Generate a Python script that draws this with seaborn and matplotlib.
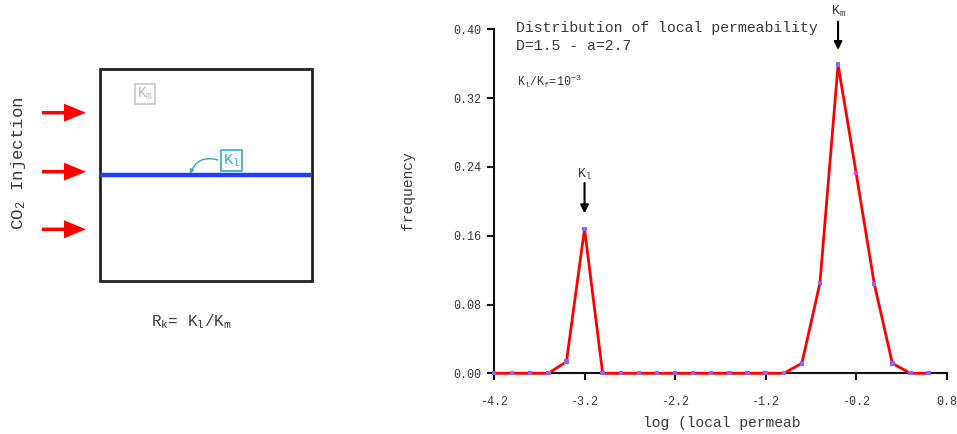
import numpy as np
import pandas as pd
import seaborn as sns
import matplotlib
matplotlib.use("Agg")
import matplotlib.pyplot as plt
from matplotlib.patches import Rectangle, FancyArrow

# ---- data ----
log_perm = [-4.2, -4.0, -3.8, -3.6, -3.4, -3.2, -3.0, -2.8, -2.6, -2.4, -2.2, -2.0, -1.8,
            -1.6, -1.4, -1.2, -1.0, -0.8, -0.6, -0.4, -0.2, 0.0, 0.2, 0.4, 0.6]
frequency = [0.0, 0.0, 0.0, 0.0, 0.0135, 0.168, 0.0, 0.0, 0.0, 0.0, 0.0, 0.0, 0.0,
             0.0, 0.0, 0.0, 0.0, 0.0116, 0.105, 0.359, 0.2326, 0.104, 0.0116, 0.0, 0.0]
point_kind = ['a'] * 20 + ['b'] + ['a'] * 4
xtick_vals = [-4.2, -3.2, -2.2, -1.2, -0.2, 0.8]
xtick_labels = ['-4.2', '-3.2', '-2.2', '-1.2', '-0.2', '0.8']
ytick_vals = [0.00, 0.08, 0.16, 0.24, 0.32, 0.40]
ytick_labels = ['0.00', '0.08', '0.16', '0.24', '0.32', '0.40']

df = pd.DataFrame({'x': log_perm, 'y': frequency, 'kind': point_kind})

sns.set_theme(style='white')
plt.rcParams['font.family'] = ['Liberation Mono', 'DejaVu Sans']
plt.rcParams['mathtext.fontset'] = 'custom'
plt.rcParams['mathtext.rm'] = 'Liberation Mono'
plt.rcParams['mathtext.it'] = 'Liberation Mono'
plt.rcParams['axes.unicode_minus'] = False

TXT = '#383838'
W, H = 957, 434
fig = plt.figure(figsize=(W / 100, H / 100), dpi=100)

# ---- left schematic (pixel coordinate axes) ----
ax0 = fig.add_axes([0, 0, 1, 1])
ax0.set_xlim(0, W)
ax0.set_ylim(H, 0)
ax0.axis('off')
ax0.patch.set_alpha(0)

ax0.add_patch(Rectangle((99.5, 68.5), 212.5, 212.5, fill=False, ec='#222222', lw=2))
ax0.plot([100, 312], [175, 175], color='#2040f0', lw=3.2, solid_capstyle='butt')
for yy in [112.7, 171.7, 229.3]:
    ax0.add_patch(FancyArrow(42, yy, 44, 0, width=3.5, head_width=18, head_length=22,
                             length_includes_head=True, color='#ff0000', lw=0))
ax0.text(145, 94, r'K$_\mathrm{m}$', color='#b8b8b8', fontsize=10, ha='center', va='center',
         bbox=dict(boxstyle='square,pad=0.12', fc='white', ec='#c8c8c8', lw=1.2))
ax0.text(231.5, 160.5, r'K$_\mathrm{l}$', color='#2fa8d0', fontsize=11, ha='center', va='center',
         bbox=dict(boxstyle='square,pad=0.12', fc='white', ec='#2fa8d0', lw=1.2))
ax0.annotate('', xy=(190, 174), xytext=(218, 160),
             arrowprops=dict(arrowstyle='-|>', connectionstyle='arc3,rad=0.45',
                             color='#2fa8d0', lw=1, mutation_scale=6, shrinkA=0, shrinkB=0))
ax0.text(19, 163, r'CO$_2$ Injection', rotation=90, color=TXT, fontsize=12.5,
         ha='center', va='center')
ax0.text(191, 322, r'R$_\mathrm{k}$= K$_\mathrm{l}$/K$_\mathrm{m}$', color=TXT, fontsize=11.5,
         ha='center', va='center')

# ---- right chart ----
x0, x1 = 494, 946.7
y0, y1 = 373.3, 29.3
ax = fig.add_axes([x0 / W, (H - y0) / H, (x1 - x0) / W, (y0 - y1) / H])
ax.patch.set_alpha(0)
sns.lineplot(data=df, x='x', y='y', ax=ax, color='#ff0000', lw=2, clip_on=False, zorder=3)
sns.scatterplot(data=df, x='x', y='y', hue='kind', palette={'a': '#8866ff', 'b': '#ff33ff'},
                ax=ax, marker='s', s=10, linewidth=0, legend=False, clip_on=False, zorder=4)
ax.set_xlim(-4.2, 0.8)
ax.set_ylim(0, 0.40)
ax.set_xticks(xtick_vals)
ax.set_xticklabels(xtick_labels)
ax.set_yticks(ytick_vals)
ax.set_yticklabels(ytick_labels)
ax.set_xlabel('')
ax.set_ylabel('')
for side in ['top', 'right']:
    ax.spines[side].set_visible(False)
for side in ['left', 'bottom']:
    ax.spines[side].set_color('#111111')
    ax.spines[side].set_linewidth(1.5)
ax.tick_params(axis='both', direction='out', length=5, width=1.5, color='#111111',
               labelcolor=TXT, labelsize=8.5)
ax.tick_params(axis='x', pad=11, bottom=True)
ax.tick_params(axis='y', pad=4, left=True)

fig.text(721.7 / W, 1 - 422.7 / H, 'log (local permeab', fontsize=10.5, color=TXT,
         ha='center', va='center')
fig.text(407.5 / W, 1 - 191 / H, 'frequency', fontsize=10.5, color=TXT, rotation=90,
         ha='center', va='center')
fig.text(516 / W, 1 - 28.3 / H, 'Distribution of local permeability', fontsize=10.7,
         color=TXT, ha='left', va='center')
fig.text(516 / W, 1 - 45.7 / H, 'D=1.5 - a=2.7', fontsize=10.7, color=TXT,
         ha='left', va='center')
fig.text(517 / W, 1 - 81.7 / H, r'K$_\mathrm{l}$/K$_\mathrm{f}$=10$^{-3}$', fontsize=8.5,
         color=TXT, ha='left', va='center')

# peak annotations
def px_to_y(py):
    return (y0 - py) / (y0 - y1) * 0.40

for xp, ptext, ptail, ptip, lab in [(-3.2, 174, 183, 213.3, r'K$_\mathrm{l}$'),
                                    (-0.4, 11.7, 21.7, 50, r'K$_\mathrm{m}$')]:
    ax.annotate('', xy=(xp, px_to_y(ptip)), xytext=(xp, px_to_y(ptail)),
                arrowprops=dict(arrowstyle='-|>', color='black', lw=1.5, mutation_scale=12,
                                shrinkA=0, shrinkB=0), annotation_clip=False)
    ax.text(xp, px_to_y(ptext), lab, fontsize=9.5, color=TXT, ha='center', va='center',
            clip_on=False)

fig.savefig('out.png', dpi=100)
